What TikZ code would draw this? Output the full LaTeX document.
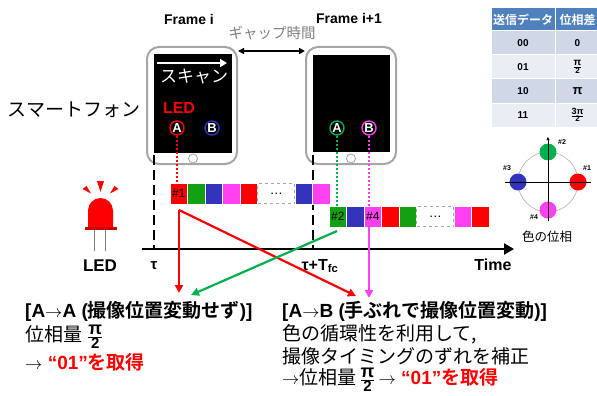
\documentclass[tikz,border=0pt]{standalone}
\usepackage{fontspec}
\usepackage{amsmath}
\usetikzlibrary{arrows.meta}
\setmainfont{Liberation Sans}
\newfontfamily\jp{Noto Sans CJK JP}[BoldFont={Noto Sans CJK JP Bold}]

\definecolor{ledred}{HTML}{FF0000}
\definecolor{cgreen}{HTML}{13A013}
\definecolor{cblue}{HTML}{3333BB}
\definecolor{cmag}{HTML}{FF40F0}
\definecolor{dotgreen}{HTML}{00B050}
\definecolor{hdblue}{HTML}{4F81BD}
\definecolor{rowa}{HTML}{D0D8E8}
\definecolor{rowb}{HTML}{E9EDF4}
\definecolor{phonegray}{HTML}{A6A6A6}

\newcommand{\fsz}[1]{\fontsize{#1}{#1}\selectfont}
% bold fraction: numerator size, numerator, denominator size, denominator
\newcommand{\bfrac}[4]{$\genfrac{}{}{}{1}{\text{\fsz{#1}\bfseries #2}}{\text{\fsz{#3}\bfseries #4}}$}

\begin{document}
\begin{tikzpicture}[
        x=1pt, y=-1pt,
        phone/.style={rectangle, draw=phonegray, line width=2pt, rounded corners=12pt, fill=white, inner sep=0pt},
        screen/.style={rectangle, fill=black, inner sep=0pt},
        homebtn/.style={circle, draw=phonegray, line width=0.8pt, fill=white, minimum size=9pt, inner sep=0pt},
        spot/.style={circle, draw, line width=1.4pt, fill=black, text=white, minimum size=14pt, inner sep=0pt, font=\fsz{13}\bfseries},
        cell/.style={rectangle, draw=white, line width=0.5pt, minimum width=17.5pt, minimum height=21pt, inner sep=0pt, font=\fsz{12}},
        gapcell/.style={rectangle, draw=gray!70, dashed, line width=0.8pt, minimum width=37pt, minimum height=20pt, inner sep=0pt, font=\fsz{13}},
        dotline/.style={line width=1.8pt, dash pattern=on 1.8pt off 2.2pt},
        arrow/.style={-{Triangle[length=8pt,width=8pt]}, line width=2.2pt},
        lbl/.style={anchor=west, inner sep=0pt, font=\fsz{19}},
        thead/.style={rectangle, fill=hdblue, draw=white, line width=1pt, minimum height=23pt, inner sep=0pt},
        tcell/.style={rectangle, draw=white, line width=1pt, minimum height=24pt, inner sep=0pt},
        phase/.style={circle, minimum size=17pt, inner sep=0pt},
        tag/.style={inner sep=0pt, font=\fsz{7}\bfseries}
    ]
\useasboundingbox (0,0) rectangle (597,396);

% Smartphone, frame i
\node[font=\fsz{14}\bfseries] (fri) at (189,19) {Frame i};
\node[phone, minimum width=90pt, minimum height=117pt] (phone1) at (192,105.5) {};
\node[screen, minimum width=78pt, minimum height=99pt] (screen1) at (193,103.5) {};
\node[homebtn] (home1) at (193,158.5) {};
\coordinate (scan0) at (157,63);
\coordinate (scan1) at (227,63);
\draw[white, line width=2.2pt, -{Triangle[length=7pt,width=8pt]}] (scan0) -- (scan1);
\node[text=white, font=\fsz{17}\jp] (scan) at (194,77) {スキャン};
\node[text=ledred, font=\fsz{16}\bfseries] (led) at (179,108) {LED};
\node[spot, draw=ledred] (a1) at (177,128) {A};
\node[spot, draw=cblue] (b1) at (212,128) {B};

% Smartphone, frame i+1
\node[font=\fsz{14}\bfseries] (frj) at (349,18) {Frame i+1};
\node[phone, minimum width=90pt, minimum height=117pt] (phone2) at (351,105.5) {};
\node[screen, minimum width=77pt, minimum height=97pt] (screen2) at (351.5,103.5) {};
\node[homebtn] (home2) at (351,158.5) {};
\node[spot, draw=dotgreen] (a2) at (337,128) {A};
\node[spot, draw=cmag] (b2) at (369,128) {B};

\node[font=\fsz{19}\jp] (sp) at (74,110) {スマートフォン};

% Gap between the two frames
\node[text=gray, font=\fsz{14.5}\jp] (gap) at (272,33) {ギャップ時間};
\coordinate (g0) at (238,51);
\coordinate (g1) at (305,51);
\draw[{Triangle[length=6pt,width=6pt]}-{Triangle[length=6pt,width=6pt]}, line width=1.5pt] (g0) -- (g1);

% Exposure start lines
\coordinate (tau0) at (154,155);
\coordinate (tau1) at (154,249);
\coordinate (tfc0) at (313,155);
\coordinate (tfc1) at (313,249);
\draw[line width=1.6pt, dash pattern=on 10pt off 5pt] (tau0) -- (tau1);
\draw[line width=1.6pt, dash pattern=on 10pt off 5pt] (tfc0) -- (tfc1);

% Colour sequence seen in frame i
\node[cell, fill=ledred] (fa1) at (178.75,193.5) {\#1};
\node[cell, fill=cgreen] (fa2) at (196.25,193.5) {};
\node[cell, fill=cblue] (fa3) at (213.75,193.5) {};
\node[cell, fill=cmag] (fa4) at (231.25,193.5) {};
\node[cell, fill=ledred] (fa5) at (248.75,193.5) {};
\node[gapcell] (fa6) at (276.25,193.5) {\dots};
\node[cell, fill=cblue] (fa7) at (303.75,193.5) {};
\node[cell, fill=cmag] (fa8) at (321.25,193.5) {};

% Colour sequence seen in frame i+1
\node[cell, fill=cgreen] (fb1) at (337.75,216.5) {\#2};
\node[cell, fill=cblue] (fb2) at (355.25,216.5) {};
\node[cell, fill=cmag] (fb3) at (372.75,216.5) {\#4};
\node[cell, fill=ledred] (fb4) at (390.25,216.5) {};
\node[cell, fill=cgreen] (fb5) at (407.75,216.5) {};
\node[gapcell] (fb6) at (435.25,216.5) {\dots};
\node[cell, fill=cmag] (fb7) at (462.75,216.5) {};
\node[cell, fill=ledred] (fb8) at (480.25,216.5) {};

% Where each spot is read
\draw[dotline, ledred] (a1.south) -- (a1 |- fa1.north);
\draw[dotline, dotgreen] (a2.south) -- (a2 |- fb1.north);
\draw[dotline, cmag] (b2.south) -- (b2 |- fb3.north);

% Time axis
\coordinate (t0) at (142,249);
\coordinate (t1) at (514,249);
\draw[-{Triangle[length=10pt,width=11pt]}, line width=2.2pt] (t0) -- (t1);
\node[font=\fsz{15}\bfseries] (tau) at (154,266) {τ};
\node[anchor=west, font=\fsz{16}\bfseries] (tfc) at (298,266) {τ+T\textsubscript{fc}};
\node[font=\fsz{16}\bfseries] (time) at (493,265) {Time};

% LED
\fill[ledred] (88,227) -- (88,210.5) arc[start angle=180, end angle=0, radius=12.5pt] -- (113,227) -- cycle;
\fill[ledred!80!black] (85,226.5) rectangle (117,230);
\draw[gray, line width=1pt] (94,230) -- (94,251);
\draw[gray, line width=1pt] (105,230) -- (105,251);
\fill[ledred] (82.5,189) -- (86.5,186) -- (91,193.5) -- cycle;
\fill[ledred] (97,181) -- (104,181) -- (100.5,192) -- cycle;
\fill[ledred] (114.5,186) -- (118.5,189) -- (110,193.5) -- cycle;
\node[font=\fsz{17}\bfseries] (ledlbl) at (100,266) {LED};

% Readout arrows
\coordinate (r0) at (179,210);
\coordinate (r1) at (179,293);
\coordinate (r2) at (356,296);
\coordinate (gr0) at (337,231);
\coordinate (gr1) at (191,295);
\coordinate (m0) at (369,227);
\coordinate (m1) at (369,298);
\draw[arrow, ledred] (r0) -- (r1);
\draw[arrow, ledred] (r0) -- (r2);
\draw[arrow, dotgreen] (gr0) -- (gr1);
\draw[arrow, cmag] (m0) -- (m1);

% Case A -> A
\node[lbl] (ca1) at (25,311) {\textbf{[A$\rightarrow$A ({\jp 撮像位置変動せず})]}};
\node[lbl] (ca2) at (25,337) {{\jp 位相量}\hspace{5pt}\bfrac{18}{π}{15}{2}};
\node[lbl] (ca3) at (25,362) {$\rightarrow$ \textcolor{ledred}{\bfseries “01”{\jp を取得}}};

% Case A -> B
\node[lbl] (cb1) at (282,311) {\textbf{[A$\rightarrow$B ({\jp 手ぶれで撮像位置変動})]}};
\node[lbl] (cb2) at (282,334) {\jp 色の循環性を利用して,};
\node[lbl] (cb3) at (282,356) {\jp 撮像タイミングのずれを補正};
\node[lbl] (cb4) at (282,380) {$\rightarrow${\jp 位相量}\hspace{3pt}\bfrac{18}{π}{15}{2}\hspace{3pt}$\rightarrow$ \textcolor{ledred}{\bfseries “01”{\jp を取得}}};

% Data to phase table
\node[thead, minimum width=64pt, text=white, font=\fsz{12}\bfseries\jp] (h1) at (523,19.5) {送信データ};
\node[thead, minimum width=45pt, text=white, font=\fsz{12}\bfseries\jp] (h2) at (577.5,19.5) {位相差};
\node[tcell, fill=rowa, minimum width=64pt, font=\fsz{10}\bfseries] (d00) at (523,43) {00};
\node[tcell, fill=rowa, minimum width=45pt, font=\fsz{10}\bfseries] (p00) at (577.5,43) {0};
\node[tcell, fill=rowb, minimum width=64pt, font=\fsz{10}\bfseries] (d01) at (523,67) {01};
\node[tcell, fill=rowb, minimum width=45pt, font=\fsz{10}\bfseries] (p01) at (577.5,67) {\bfrac{10}{π}{8}{2}};
\node[tcell, fill=rowa, minimum width=64pt, font=\fsz{10}\bfseries] (d10) at (523,91) {10};
\node[tcell, fill=rowa, minimum width=45pt, font=\fsz{13}\bfseries] (p10) at (577.5,91) {π};
\node[tcell, fill=rowb, minimum width=64pt, font=\fsz{10}\bfseries] (d11) at (523,115) {11};
\node[tcell, fill=rowb, minimum width=45pt, font=\fsz{10}\bfseries] (p11) at (577.5,115) {\bfrac{9}{3π}{8}{2}};

% Colour phases
\draw[gray!60, line width=0.6pt] (548,182) circle (30pt);
\node[phase, fill=ledred] (ph1) at (578,182) {};
\node[phase, fill=dotgreen] (ph2) at (548,152) {};
\node[phase, fill=cblue] (ph3) at (518,182) {};
\node[phase, fill=cmag] (ph4) at (548,210) {};
\coordinate (ax0) at (505,182);
\coordinate (ax1) at (591,182);
\coordinate (ay0) at (548,221);
\coordinate (ay1) at (548,137);
\draw[line width=0.8pt] (ax0) -- (ax1);
\draw[line width=0.8pt, -{Triangle[length=3pt,width=3pt]}] (ay0) -- (ay1);
\node[tag] (n1) at (587,168) {\#1};
\node[tag] (n2) at (562,142) {\#2};
\node[tag] (n3) at (507,168) {\#3};
\node[tag] (n4) at (534,217) {\#4};
\node[font=\fsz{12.5}\jp] (phlbl) at (547,237) {色の位相};

\end{tikzpicture}
\end{document}
